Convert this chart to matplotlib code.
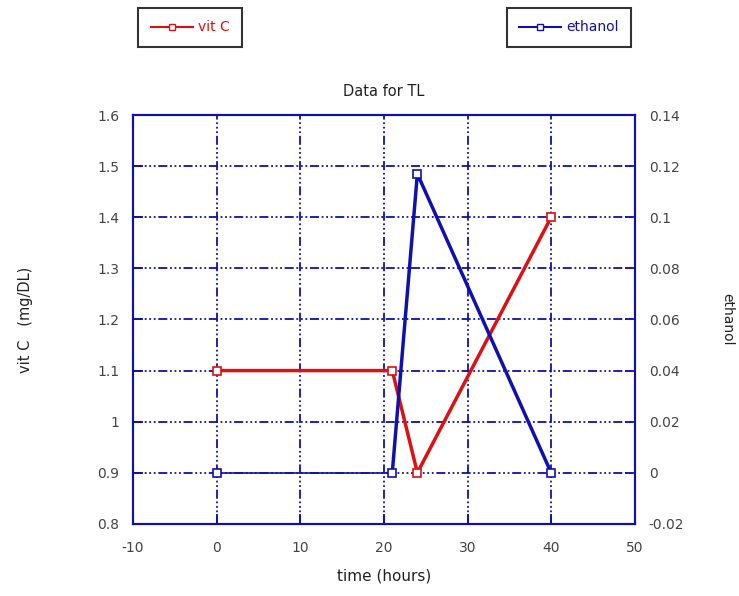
import matplotlib
matplotlib.use('Agg')
import matplotlib.pyplot as plt
from matplotlib.lines import Line2D

# data
time_h = [0, 21, 24, 40]
vit_c = [1.1, 1.1, 0.9, 1.4]
ethanol = [0.0, 0.0, 0.117, 0.0]

x_ticks = [-10, 0, 10, 20, 30, 40, 50]
left_ticks = [0.8, 0.9, 1.0, 1.1, 1.2, 1.3, 1.4, 1.5, 1.6]
left_labels = ['0.8', '0.9', '1', '1.1', '1.2', '1.3', '1.4', '1.5', '1.6']
right_ticks = [-0.02, 0, 0.02, 0.04, 0.06, 0.08, 0.1, 0.12, 0.14]
right_labels = ['-0.02', '0', '0.02', '0.04', '0.06', '0.08', '0.1', '0.12', '0.14']

blue = '#1010b0'
red = '#dd1111'
grey = '#444444'
grid_style = (0, (5, 1.5, 1, 1.5, 1, 1.5, 1, 1.5))

plt.rcParams['font.family'] = ['DejaVu Sans']
plt.rcParams['axes.unicode_minus'] = False

fig = plt.figure(figsize=(7.39, 5.96), dpi=100)
ax = fig.add_axes([0.180, 0.121, 0.679, 0.686])
ax2 = ax.twinx()

ax.set_xlim(-10, 50)
ax.set_ylim(0.8, 1.6)
ax2.set_ylim(-0.02, 0.14)

ax.set_xticks(x_ticks)
ax.set_yticks(left_ticks)
ax.set_yticklabels(left_labels)
ax2.set_yticks(right_ticks)
ax2.set_yticklabels(right_labels)

ax.grid(True, color=blue, linestyle=grid_style, linewidth=1.3)
ax.set_axisbelow(True)

for a in (ax, ax2):
    for s in a.spines.values():
        s.set_color(blue)
        s.set_linewidth(1.5)
    a.tick_params(direction='in', length=7, width=1.3, color=blue,
                  labelcolor=grey, labelsize=10, pad=10)
ax.tick_params(axis='x', pad=12)
ax2.tick_params(axis='y', right=True, length=7)

# vit C on left axis
ax.plot(time_h, vit_c, color=red, linewidth=2.5, marker='s', markersize=6,
        markerfacecolor='white', markeredgecolor=red, markeredgewidth=1.2,
        zorder=3, clip_on=False)

# ethanol on right axis, first segment is drawn thin in the original
ax2.plot(time_h[:2], ethanol[:2], color=blue, linewidth=1.2, zorder=3)
ax2.plot(time_h[1:], ethanol[1:], color=blue, linewidth=2.5, zorder=3)
ax2.plot(time_h, ethanol, linestyle='none', marker='s', markersize=6,
         markerfacecolor='white', markeredgecolor=blue, markeredgewidth=1.2,
         zorder=4, clip_on=False)

ax.set_title('Data for TL', fontsize=10.5, color='#222222', pad=14)
ax.set_xlabel('time (hours)', fontsize=11, color='#222222', labelpad=10)
ax.set_ylabel('vit C   (mg/DL)', fontsize=10.5, color='#222222', labelpad=46)
ax2.set_ylabel('ethanol', fontsize=10, color='#222222', rotation=-90, labelpad=36)

# separate legend boxes at the top
h1 = Line2D([], [], color=red, linewidth=1.5, marker='s', markersize=5,
            markerfacecolor='white', markeredgecolor=red)
h2 = Line2D([], [], color=blue, linewidth=1.5, marker='s', markersize=5,
            markerfacecolor='white', markeredgecolor=blue)
leg1 = fig.legend([h1], ['vit C'], loc='center left', bbox_to_anchor=(0.178, 0.954),
                  frameon=True, fancybox=False, edgecolor='black', fontsize=10,
                  handlelength=3.0, labelcolor=red, borderpad=0.9,
                  handletextpad=0.4)
leg1.get_frame().set_linewidth(1.5)
leg2 = fig.legend([h2], ['ethanol'], loc='center left', bbox_to_anchor=(0.676, 0.954),
                  frameon=True, fancybox=False, edgecolor='black', fontsize=10,
                  handlelength=3.0, labelcolor=blue, borderpad=0.9,
                  handletextpad=0.4)
leg2.get_frame().set_linewidth(1.5)

fig.savefig('out.png', dpi=100)
